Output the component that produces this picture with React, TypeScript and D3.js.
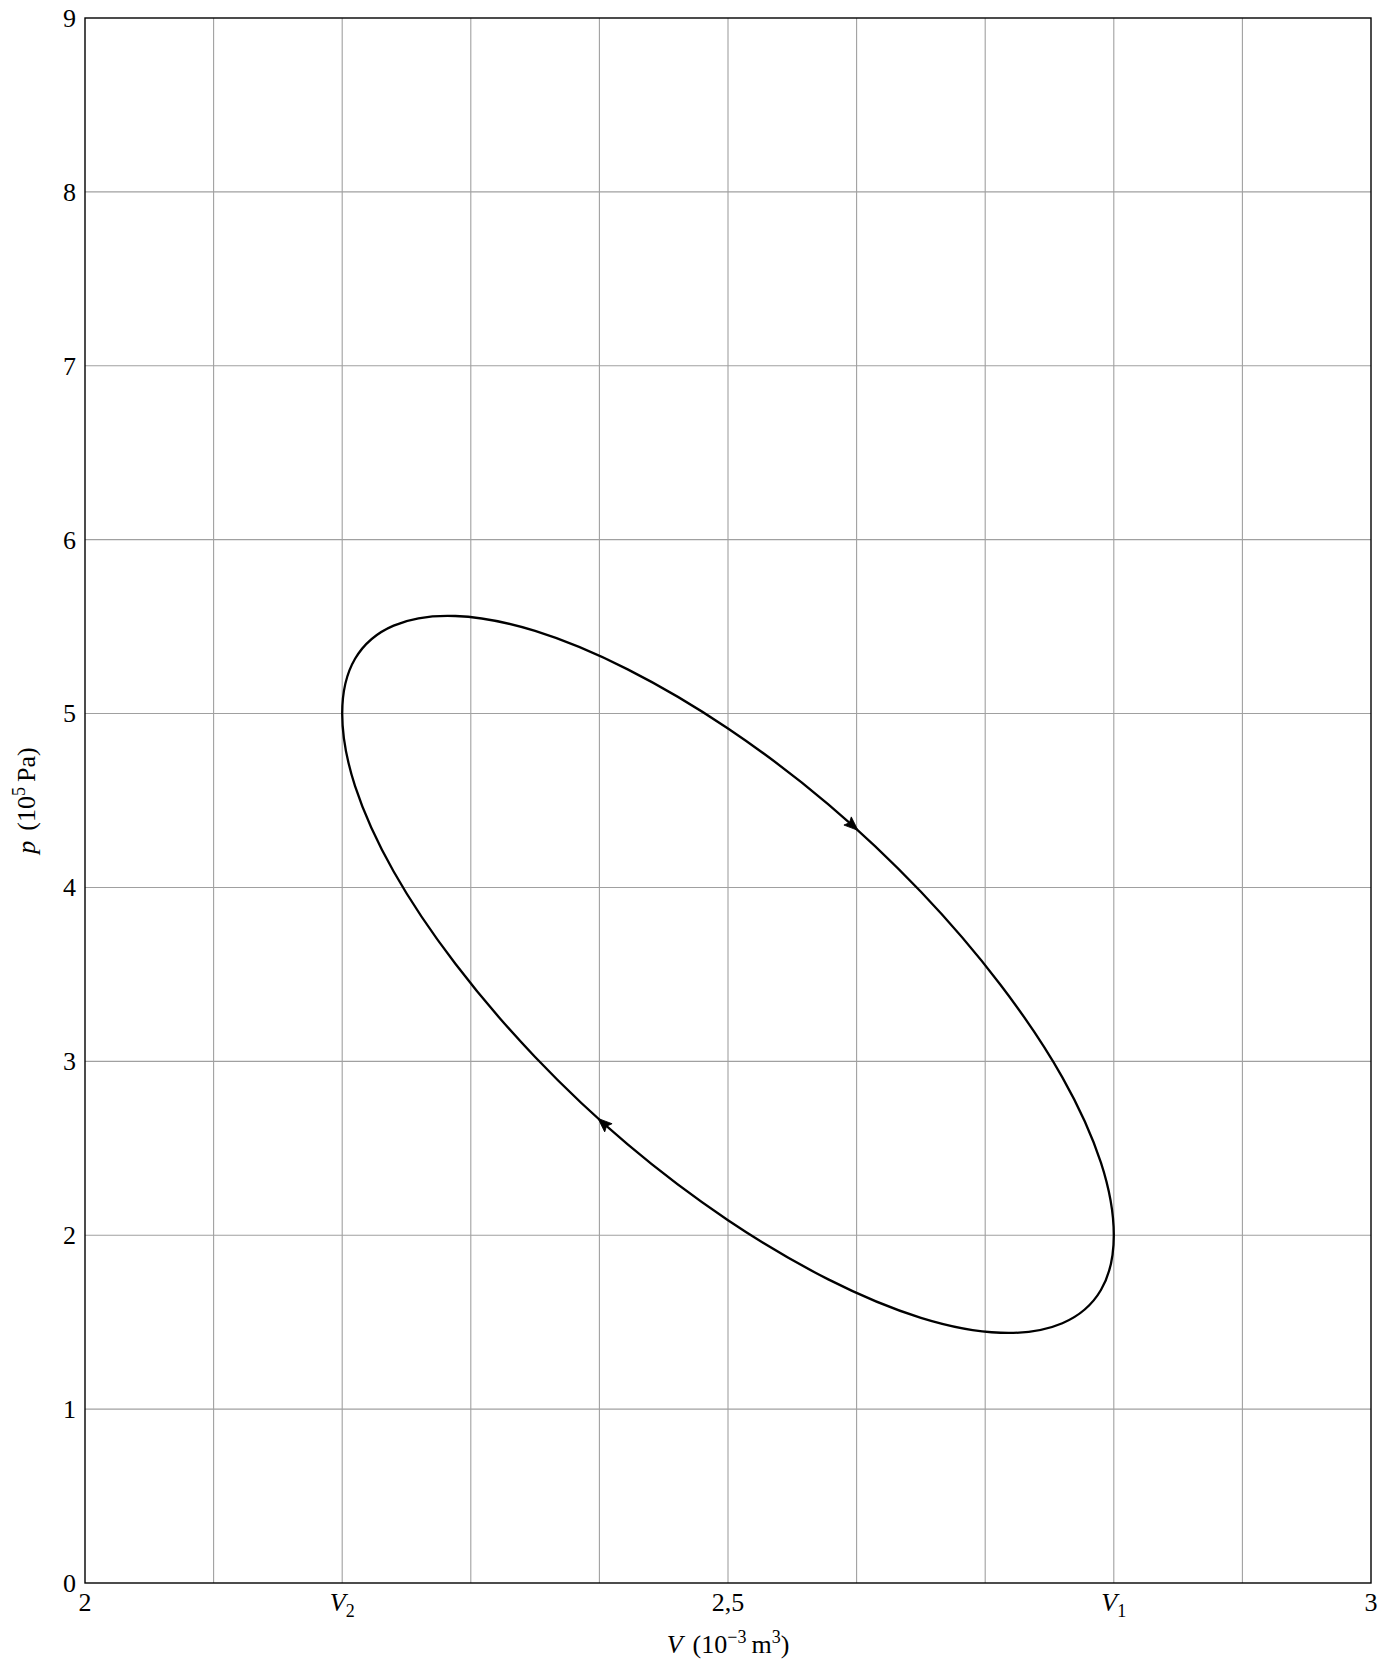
import React, { useEffect, useRef } from "react";
import * as d3 from "d3";

// Cycle points (V in 10^-3 m^3, p in 10^5 Pa), in order of travel
const cycleV = [2.2, 2.21, 2.24, 2.288, 2.35, 2.422, 2.5, 2.578, 2.65, 2.712, 2.76, 2.79, 2.8, 2.79, 2.76, 2.712, 2.65, 2.578, 2.5, 2.422, 2.35, 2.288, 2.24, 2.21];
const cycleP = [5.0, 5.315, 5.506, 5.561, 5.475, 5.254, 4.914, 4.478, 3.975, 3.439, 2.908, 2.417, 2.0, 1.685, 1.494, 1.439, 1.525, 1.746, 2.086, 2.522, 3.025, 3.561, 4.092, 4.583];

// Arrow positions (V where arrow sits) and branch
const arrowV = [2.6, 2.4];
const arrowBranch = ["upper", "lower"];

// Axis ticks
const xTickValues = [2, 2.2, 2.5, 2.8, 3];
const xTickLabels = ["2", "V2", "2,5", "V1", "3"];
const yTickValues = [0, 1, 2, 3, 4, 5, 6, 7, 8, 9];
const xGrid = [2.1, 2.2, 2.3, 2.4, 2.5, 2.6, 2.7, 2.8, 2.9];
const yGrid = [1, 2, 3, 4, 5, 6, 7, 8];

const W = 1388;
const H = 1660;
const M = { left: 85, right: 17, top: 18, bottom: 77 };
const FONT = "'Liberation Serif', 'DejaVu Serif', serif";

export default function App() {
  const pathRef = useRef<SVGPathElement | null>(null);
  const arrowRef = useRef<SVGGElement | null>(null);

  const x = d3.scaleLinear().domain([2, 3]).range([M.left, W - M.right]);
  const y = d3.scaleLinear().domain([0, 9]).range([H - M.bottom, M.top]);

  const pts: [number, number][] = cycleV.map((v, i) => [x(v), y(cycleP[i])]);
  const line = d3.line<[number, number]>().x(d => d[0]).y(d => d[1]).curve(d3.curveCatmullRomClosed.alpha(0));
  const pathD = line(pts) || "";

  useEffect(() => {
    const path = pathRef.current;
    const g = arrowRef.current;
    if (!path || !g) return;
    const total = path.getTotalLength();
    const sel = d3.select(g);
    sel.selectAll("*").remove();
    arrowV.forEach((v, k) => {
      const tx = x(v);
      const N = 3000;
      const start = arrowBranch[k] === "upper" ? 0 : total / 2;
      const end = arrowBranch[k] === "upper" ? total / 2 : total;
      let best = start;
      let bestD = Infinity;
      for (let i = 0; i <= N; i++) {
        const s = start + ((end - start) * i) / N;
        const pt = path.getPointAtLength(s);
        const d = Math.abs(pt.x - tx);
        if (d < bestD) {
          bestD = d;
          best = s;
        }
      }
      const p0 = path.getPointAtLength(Math.max(0, best - 2));
      const p1 = path.getPointAtLength(Math.min(total, best + 2));
      const tip = path.getPointAtLength(best);
      const ang = (Math.atan2(p1.y - p0.y, p1.x - p0.x) * 180) / Math.PI;
      sel
        .append("path")
        .attr("d", "M2,0 L-12,-5.5 L-9.5,0 L-12,5.5 Z")
        .attr("fill", "#000")
        .attr("stroke", "#000")
        .attr("stroke-width", 0.8)
        .attr("stroke-linejoin", "round")
        .attr("transform", `translate(${tip.x},${tip.y}) rotate(${ang})`);
    });
  }, []);

  const x0 = x(2), x1 = x(3), y0 = y(0), y1 = y(9);

  return (
    <svg width={W} height={H} style={{ position: "absolute", left: 0, top: 0, background: "#fff" }} fontFamily={FONT}>
      <rect x={0} y={0} width={W} height={H} fill="#fff" />
      {xGrid.map(v => (
        <line key={"gx" + v} x1={x(v)} x2={x(v)} y1={y0} y2={y1} stroke="#a0a0a0" strokeWidth={1.1} />
      ))}
      {yGrid.map(v => (
        <line key={"gy" + v} x1={x0} x2={x1} y1={y(v)} y2={y(v)} stroke="#a0a0a0" strokeWidth={1.1} />
      ))}
      <rect x={x0} y={y1} width={x1 - x0} height={y0 - y1} fill="none" stroke="#000" strokeWidth={1.4} />
      <path ref={pathRef} d={pathD} fill="none" stroke="#000" strokeWidth={2.3} />
      <g ref={arrowRef} />
      {yTickValues.map(v => (
        <text key={"yt" + v} x={x0 - 9} y={y(v)} dy="0.34em" textAnchor="end" fontSize={26}>
          {v}
        </text>
      ))}
      {xTickValues.map((v, i) => {
        const lab = xTickLabels[i];
        const isV = lab.startsWith("V");
        return (
          <text key={"xt" + v} x={x(v)} y={y0 + 28} textAnchor="middle" fontSize={26}>
            {isV ? (
              <>
                <tspan fontStyle="italic">V</tspan>
                <tspan fontSize={18} dy={6}>{lab.slice(1)}</tspan>
              </>
            ) : (
              lab
            )}
          </text>
        );
      })}
      <text x={x(2.5)} y={y0 + 70} textAnchor="middle" fontSize={26}>
        <tspan fontStyle="italic">V</tspan>
        <tspan dx={10}>{"(10"}</tspan>
        <tspan fontSize={18} dy={-10}>{"−3"}</tspan>
        <tspan dy={10} dx={5}>{"m"}</tspan>
        <tspan fontSize={18} dy={-10}>{"3"}</tspan>
        <tspan dy={10}>{")"}</tspan>
      </text>
      <text transform={`translate(${35},${(y0 + y1) / 2}) rotate(-90)`} textAnchor="middle" fontSize={26}>
        <tspan fontStyle="italic">p</tspan>
        <tspan dx={10}>{"(10"}</tspan>
        <tspan fontSize={18} dy={-10}>{"5"}</tspan>
        <tspan dy={10} dx={5}>{"Pa)"}</tspan>
      </text>
    </svg>
  );
}
